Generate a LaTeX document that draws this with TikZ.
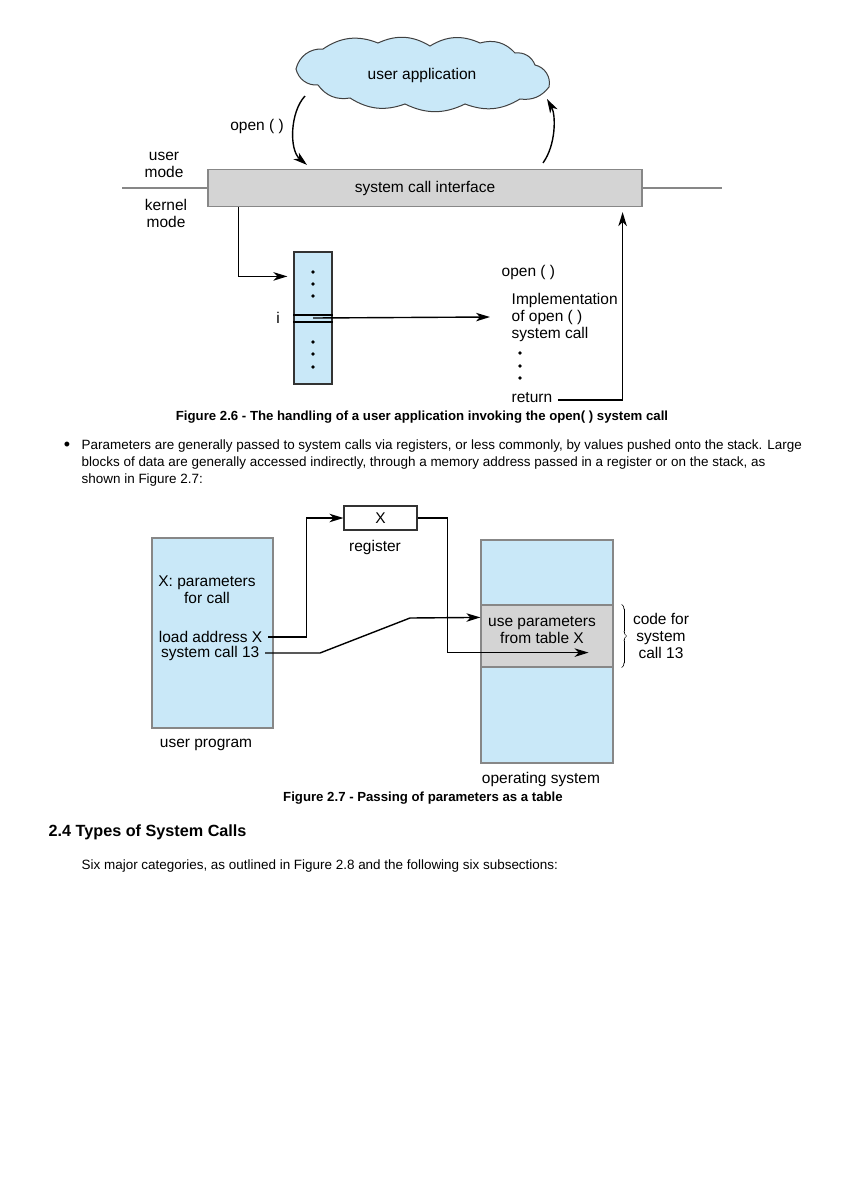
\documentclass[tikz,border=0pt]{standalone}
\usepackage{fontspec}
\setmainfont{Liberation Sans}
\usepackage{xcolor}
\usepackage{tikz}
\usetikzlibrary{arrows.meta}
\usetikzlibrary{decorations.pathreplacing,calligraphy}
\definecolor{paleblue}{RGB}{201,232,248}
\definecolor{panelgray}{RGB}{212,212,212}
\definecolor{rulegray}{RGB}{135,135,135}
\newcommand{\figfont}{\fontsize{15.5}{17}\selectfont}
\newcommand{\parafont}{\fontsize{13.45}{16.3}\selectfont}
\newcommand{\capfont}{\fontsize{13.2}{15}\selectfont\bfseries}
\newcommand{\headfont}{\fontsize{16.2}{19}\selectfont\bfseries}
\tikzset{
	bluebox/.style={draw=rulegray, fill=paleblue, line width=1.2pt},
	graybox/.style={draw=rulegray, fill=panelgray, line width=1.2pt},
	plain/.style={inner sep=0pt},
	modeline/.style={draw=rulegray, line width=1.3pt},
	arrowtip/.style={-{Stealth[length=14pt, width=8.5pt, inset=4pt]}},
}

\begin{document}
\begin{tikzpicture}[x=1pt, y=-1pt, font=\figfont, line width=1.4pt]
			\fill[white] (0,0) rectangle (846,1197);
			\useasboundingbox (0,0) rectangle (846,1197);
			\def\r{1.8pt};
			% figure 2.6
			\draw[draw=black!75, line width=1pt, fill=paleblue] (296,69)
				to[bend left=40] (323,49) to[bend left=28] (378,43) to[bend left=28] (430,46)
				to[bend left=28] (480,43) to[bend left=32] (515,53) to[bend left=38] (535,65)
				to[bend left=45] (549,87) to[bend left=30] (520,99) to[bend left=26] (465,104)
				to[bend left=26] (405,104) to[bend left=26] (350,98) to[bend left=32] (318,85)
				to[bend left=40] cycle;
			\node (app) at (422,75) {user application};
			\coordinate (userleft) at (122,188);
			\coordinate (userright) at (722,188);
			\draw[modeline] (userleft) -- (userright);
			\node[graybox, minimum width=434pt, minimum height=37pt] (sci) at (425,188) {system call interface};
			\node[align=center] (umode) at (164,165) {user\\mode};
			\node[align=center] (kmode) at (166,213) {kernel\\mode};
			\node (callname) at (257,126) {open ( )};
			\coordinate (callsrc) at (305,96);
			\coordinate (backdst) at (547,99);
			\draw[arrowtip] (callsrc) .. controls (290,112) and (289,150) .. ([xshift=-118pt,yshift=4pt]sci.north);
			\draw[arrowtip] ([xshift=118pt,yshift=6pt]sci.north) .. controls (556,145) and (556,115) .. (backdst);
			% dispatch table
			\node[bluebox, draw=black!80, minimum width=38pt, minimum height=132pt] (tbl) at (313,318) {};
			\foreach \j in {315,322} {
				\draw[line width=1.1pt] (tbl.west |- 0,\j) -- (tbl.east |- 0,\j);
			}
			\foreach \j in {272,284,296,342,354,367} {
				\fill (313,\j) circle (\r);
			}
			\node (idx) at (278,318) {i};
			\draw[arrowtip, shorten >=6pt] ([xshift=31pt]sci.south west) |- ([yshift=-25pt]tbl.north west);
			% implementation of open()
			\node[plain, anchor=west] (openlbl) at (501,272) {open ( )};
			\node[plain, anchor=west, align=left] (impl) at (511,317) {Implementation\\of open ( )\\system call};
			\foreach \j in {353,366,378} {
				\fill (520,\j) circle (\r);
			}
			\node[plain, anchor=west] (ret) at (511,398) {return};
			\draw[arrowtip] (tbl.center) -- ([xshift=-21pt]impl.west);
			\draw[arrowtip] ([xshift=5pt,yshift=-2pt]ret.east) -| ([xshift=-20pt,yshift=-5pt]sci.south east);
			\node[font=\capfont] (cap1) at (422,417) {Figure 2.6 - The handling of a user application invoking the open( ) system call};
			% paragraph
			\node[font=\fontsize{18}{18}\selectfont] (bullet) at (67,446) {•};
			\node[plain, font=\parafont, anchor=west] (par1) at (81,446) {Parameters are generally passed to system calls via registers, or less commonly, by values pushed onto the stack. Large};
			\node[plain, font=\parafont, anchor=west] (par2) at (81,463) {blocks of data are generally accessed indirectly, through a memory address passed in a register or on the stack, as};
			\node[plain, font=\parafont, anchor=west] (par3) at (81,480) {shown in Figure 2.7:};
			% figure 2.7
			\node[draw=black!80, line width=1.1pt, fill=white, minimum width=73pt, minimum height=24pt] (reg) at (380.5,518) {X};
			\node (reglbl) at (375,547) {register};
			\node[bluebox, minimum width=121pt, minimum height=190pt] (prog) at (212.5,633) {};
			\node[align=center] (params) at (207,590) {X: parameters\\for call};
			\node[plain, anchor=east] (load) at (263,637) {load address X};
			\node[plain, anchor=east] (sys) at (260,653) {system call 13};
			\node (proglbl) at (206,745) {user program};
			\node[bluebox, minimum width=132pt, minimum height=223pt] (os) at (547,651.5) {};
			\node[graybox, minimum width=132pt, minimum height=62pt] (code) at (547,636) {};
			\node[align=center] (usetbl) at (542,630) {use parameters\\from table X};
			\node (oslbl) at (541,779) {operating system};
			\draw[decorate, decoration={calligraphic brace, amplitude=5pt}, line width=0.9pt]
				([xshift=8pt]code.north east) -- ([xshift=8pt]code.south east);
			\node[align=center] (codelbl) at (661,636) {code for\\system\\call 13};
			\draw[arrowtip] ([xshift=5pt]load.east) -| ([xshift=-37pt]reg.west) -- (reg.west);
			\draw[arrowtip] (reg.east) -- ++(30,0) |- ([xshift=-25pt,yshift=15pt]code.south east);
			\draw[arrowtip] ([xshift=5pt]sys.east) -- ++(55,0) -- ++(90,-35) -- ([yshift=-13pt]code.north west);
			\node[font=\capfont] (cap2) at (423,798) {Figure 2.7 - Passing of parameters as a table};
			% next section
			\node[plain, font=\headfont, anchor=west] (sect) at (48,832) {2.4 Types of System Calls};
			\node[plain, font=\parafont, anchor=west] (par4) at (81,866) {Six major categories, as outlined in Figure 2.8 and the following six subsections:};
\end{tikzpicture}
\end{document}
